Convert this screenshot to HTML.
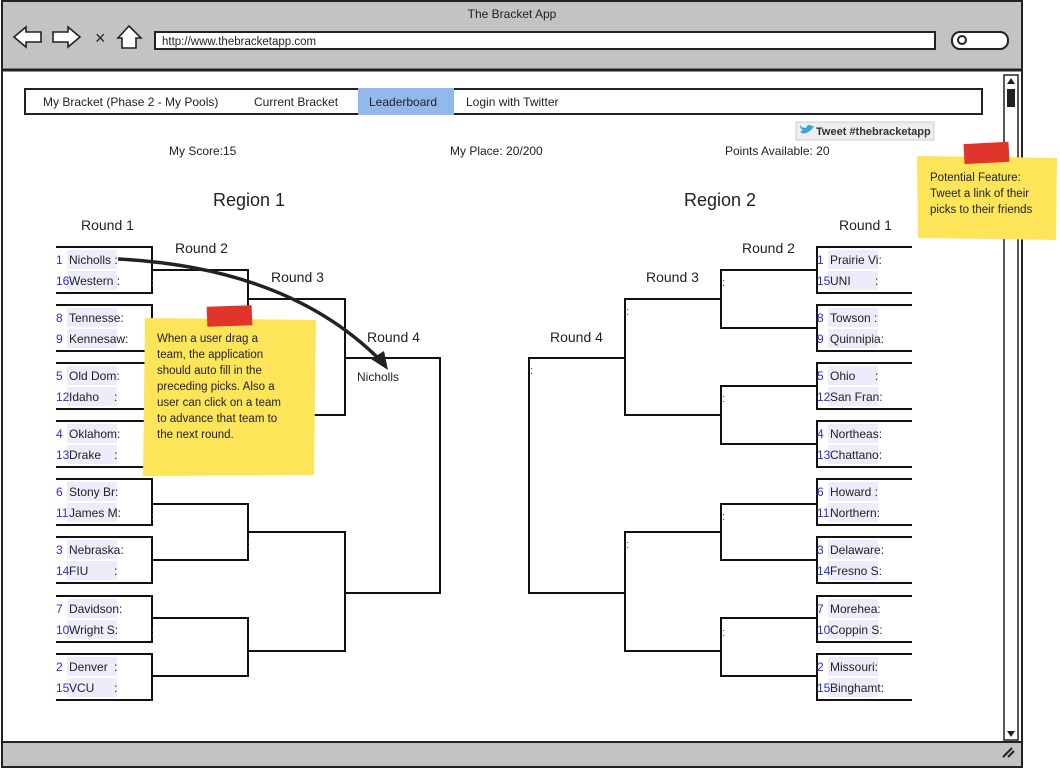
<!DOCTYPE html>
<html><head><meta charset="utf-8"><style>
html,body{margin:0;padding:0;background:#fff;}
svg text{font-family:"Liberation Sans",sans-serif;}
</style></head><body>
<svg width="1060" height="768" viewBox="0 0 1060 768" xmlns="http://www.w3.org/2000/svg">
<!-- window chrome -->
<rect x="0" y="0" width="1060" height="768" fill="#fff"/>
<rect x="2" y="1" width="1020" height="766" fill="#fff" stroke="#222" stroke-width="2"/>
<rect x="3" y="2" width="1018" height="68" fill="#c3c3c3"/>
<line x1="2" y1="70" x2="1022" y2="70" stroke="#222" stroke-width="3"/>
<text x="512" y="18" font-size="12" text-anchor="middle" fill="#222">The Bracket App</text>
<!-- nav icons -->
<path d="M14 37 L26 27 V32 H41 V42 H26 V47 Z" fill="#fff" stroke="#222" stroke-width="1.6"/>
<path d="M80 37 L68 27 V32 H53 V42 H68 V47 Z" fill="#fff" stroke="#222" stroke-width="1.6"/>
<text x="95" y="44" font-size="18" fill="#222">×</text>
<path d="M118 38 L129 26 L141 38 H136 V48 H122 V38 Z" fill="#fff" stroke="#222" stroke-width="1.6"/>
<rect x="155" y="32" width="780" height="17" fill="#fff" stroke="#222" stroke-width="2"/>
<text x="162" y="45" font-size="11.5" fill="#222">http://www.thebracketapp.com</text>
<rect x="952" y="32" width="56" height="17" rx="8" fill="#fff" stroke="#222" stroke-width="2"/>
<circle cx="962" cy="40" r="4" fill="none" stroke="#222" stroke-width="2"/>
<!-- bottom bar -->
<rect x="3" y="742" width="1018" height="24" fill="#c3c3c3"/>
<line x1="2" y1="742" x2="1022" y2="742" stroke="#222" stroke-width="2"/>
<path d="M1003 757 L1012 748 M1008 757 L1014 751" stroke="#222" stroke-width="2"/>
<!-- scrollbar -->
<rect x="1004" y="75" width="14" height="665" fill="#fff" stroke="#222" stroke-width="1.5"/>
<path d="M1007 84 L1011 78 L1015 84 Z" fill="#222"/>
<rect x="1007" y="89" width="8" height="18" fill="#222"/>
<path d="M1007 731 L1011 737 L1015 731 Z" fill="#222"/>
<!-- tabs -->
<rect x="25" y="89" width="957" height="25" fill="#fff" stroke="#222" stroke-width="2"/>
<rect x="358" y="88" width="96" height="27" fill="#93b8ec"/>
<g font-size="12" fill="#222">
<text x="43" y="106">My Bracket (Phase 2 - My Pools)</text>
<text x="254" y="106">Current Bracket</text>
<text x="369" y="106">Leaderboard</text>
<text x="466" y="106">Login with Twitter</text>
<text x="169" y="155">My Score:15</text>
<text x="450" y="155">My Place: 20/200</text>
<text x="725" y="155">Points Available: 20</text>
</g>
<rect x="796" y="122" width="138" height="18" fill="#eee" stroke="#ccc"/>
<path d="M800 132 q5 4 12 -3 l2 -3 l-2 0 q-4 -3 -6 2 q-4 0 -6 -3 q0 4 3 5 q-2 1 -3 2z" fill="#3aa6dc"/>
<text x="816" y="135" font-size="11" font-weight="bold" fill="#333">Tweet #thebracketapp</text>
<!-- headings -->
<g font-size="18" fill="#222" text-anchor="middle">
<text x="249" y="206">Region 1</text>
<text x="720" y="206">Region 2</text>
</g>
<g font-size="14" fill="#222">
<text x="81" y="230">Round 1</text>
<text x="175" y="253">Round 2</text>
<text x="271" y="282">Round 3</text>
<text x="367" y="342">Round 4</text>
<text x="839" y="230">Round 1</text>
<text x="742" y="253">Round 2</text>
<text x="646" y="282">Round 3</text>
<text x="550" y="342">Round 4</text>
</g>
<!-- brackets -->
<g fill="none" stroke="#111" stroke-width="2">
<path d="M56 247H152V293H56 M56 305H152V351H56 M56 363H152V409H56 M56 421H152V467H56 M56 479H152V525H56 M56 537H152V583H56 M56 596H152V642H56 M56 654H152V700H56"/>
<path d="M152 270H248V328H152 M152 386H248V444H152 M152 504H248V560H152 M152 618H248V676H152"/>
<path d="M248 299H345V415H248 M248 532H345V651H248"/>
<path d="M345 358H440V593H345"/>
<path d="M912 247H817V293H912 M912 305H817V351H912 M912 363H817V409H912 M912 421H817V467H912 M912 479H817V525H912 M912 537H817V583H912 M912 596H817V642H912 M912 654H817V700H912"/>
<path d="M817 270H721V328H817 M817 386H721V444H817 M817 504H721V560H817 M817 618H721V676H817"/>
<path d="M721 299H625V415H721 M721 532H625V651H721"/>
<path d="M625 358H529V593H625"/>
</g>
<!-- team name backgrounds -->
<g fill="#ececfb">
<rect x="67" y="250" width="50" height="19"/><rect x="67" y="271" width="50" height="19"/>
<rect x="67" y="308" width="50" height="19"/><rect x="67" y="329" width="50" height="19"/>
<rect x="67" y="366" width="50" height="19"/><rect x="67" y="387" width="50" height="19"/>
<rect x="67" y="424" width="50" height="19"/><rect x="67" y="445" width="50" height="19"/>
<rect x="67" y="482" width="50" height="19"/><rect x="67" y="503" width="50" height="19"/>
<rect x="67" y="540" width="50" height="19"/><rect x="67" y="561" width="50" height="19"/>
<rect x="67" y="599" width="50" height="19"/><rect x="67" y="620" width="50" height="19"/>
<rect x="67" y="657" width="50" height="19"/><rect x="67" y="678" width="50" height="19"/>
<rect x="828" y="250" width="50" height="19"/><rect x="828" y="271" width="50" height="19"/>
<rect x="828" y="308" width="50" height="19"/><rect x="828" y="329" width="50" height="19"/>
<rect x="828" y="366" width="50" height="19"/><rect x="828" y="387" width="50" height="19"/>
<rect x="828" y="424" width="50" height="19"/><rect x="828" y="445" width="50" height="19"/>
<rect x="828" y="482" width="50" height="19"/><rect x="828" y="503" width="50" height="19"/>
<rect x="828" y="540" width="50" height="19"/><rect x="828" y="561" width="50" height="19"/>
<rect x="828" y="599" width="50" height="19"/><rect x="828" y="620" width="50" height="19"/>
<rect x="828" y="657" width="50" height="19"/><rect x="828" y="678" width="50" height="19"/>
</g>
<g font-size="12" fill="#2233dd">
<text x="56" y="264">1</text><text x="56" y="285">16</text>
<text x="56" y="322">8</text><text x="56" y="343">9</text>
<text x="56" y="380">5</text><text x="56" y="401">12</text>
<text x="56" y="438">4</text><text x="56" y="459">13</text>
<text x="56" y="496">6</text><text x="56" y="517">11</text>
<text x="56" y="554">3</text><text x="56" y="575">14</text>
<text x="56" y="613">7</text><text x="56" y="634">10</text>
<text x="56" y="671">2</text><text x="56" y="692">15</text>
<text x="817" y="264">1</text><text x="817" y="285">15</text>
<text x="817" y="322">8</text><text x="817" y="343">9</text>
<text x="817" y="380">5</text><text x="817" y="401">12</text>
<text x="817" y="438">4</text><text x="817" y="459">13</text>
<text x="817" y="496">6</text><text x="817" y="517">11</text>
<text x="817" y="554">3</text><text x="817" y="575">14</text>
<text x="817" y="613">7</text><text x="817" y="634">10</text>
<text x="817" y="671">2</text><text x="817" y="692">15</text>
</g>
<g font-size="12" fill="#222" textLength="48">
<text x="69" y="264">Nicholls :</text><text x="69" y="285">Western :</text>
<text x="69" y="322">Tennesse:</text><text x="69" y="343">Kennesaw:</text>
<text x="69" y="380">Old Dom:</text><text x="69" y="401">Idaho</text><text x="114" y="401">:</text>
<text x="69" y="438">Oklahom:</text><text x="69" y="459">Drake</text><text x="114" y="459">:</text>
<text x="69" y="496">Stony Br:</text><text x="69" y="517">James M:</text>
<text x="69" y="554">Nebraska:</text><text x="69" y="575">FIU</text><text x="114" y="575">:</text>
<text x="69" y="613">Davidson:</text><text x="69" y="634">Wright S:</text>
<text x="69" y="671">Denver</text><text x="114" y="671">:</text><text x="69" y="692">VCU</text><text x="114" y="692">:</text>
<text x="830" y="264">Prairie Vi:</text><text x="830" y="285">UNI</text><text x="875" y="285">:</text>
<text x="830" y="322">Towson :</text><text x="830" y="343">Quinnipia:</text>
<text x="830" y="380">Ohio</text><text x="875" y="380">:</text><text x="830" y="401">San Fran:</text>
<text x="830" y="438">Northeas:</text><text x="830" y="459">Chattano:</text>
<text x="830" y="496">Howard :</text><text x="830" y="517">Northern:</text>
<text x="830" y="554">Delaware:</text><text x="830" y="575">Fresno S:</text>
<text x="830" y="613">Morehea:</text><text x="830" y="634">Coppin S:</text>
<text x="830" y="671">Missouri:</text><text x="830" y="692">Binghamt:</text>
</g>
<g font-size="11" fill="#555">
<text x="151" y="286">:</text><text x="151" y="520">:</text><text x="151" y="636">:</text><text x="247" y="548">:</text>
<text x="722" y="286">:</text><text x="722" y="402">:</text><text x="722" y="520">:</text><text x="722" y="636">:</text>
<text x="626" y="315">:</text><text x="626" y="548">:</text><text x="530" y="374">:</text>
</g>
<text x="357" y="381" font-size="12" fill="#222">Nicholls</text>
<!-- sticky notes -->
<g>
<path d="M145 318 L316 320 L314 475 L143 476 Z" fill="#fde55a"/>
<rect x="207" y="306" width="45" height="20" fill="#e0352b" transform="rotate(-2 229 316)"/>
<g font-size="11.5" fill="#222">
<text x="157" y="342">When a user drag a</text>
<text x="157" y="358">team, the application</text>
<text x="157" y="374">should auto fill in the</text>
<text x="157" y="390">preceding picks.  Also a</text>
<text x="157" y="406">user can click on a team</text>
<text x="157" y="422">to advance that team to</text>
<text x="157" y="438">the next round.</text>
</g>
</g>
<path d="M118 259 Q290 268 382 362" fill="none" stroke="#222" stroke-width="3.5"/>
<path d="M388 370 L371 359 L384 351 Z" fill="#222"/>
<g>
<path d="M917 156 L1057 158 L1056 240 L918 238 Z" fill="#fde55a"/>
<rect x="964" y="143" width="45" height="20" fill="#e0352b" transform="rotate(-3 986 153)"/>
<g font-size="11.5" fill="#222">
<text x="930" y="181">Potential Feature:</text>
<text x="930" y="197">Tweet a link of their</text>
<text x="930" y="213">picks to their friends</text>
</g>
</g>
</svg>
</body></html>
